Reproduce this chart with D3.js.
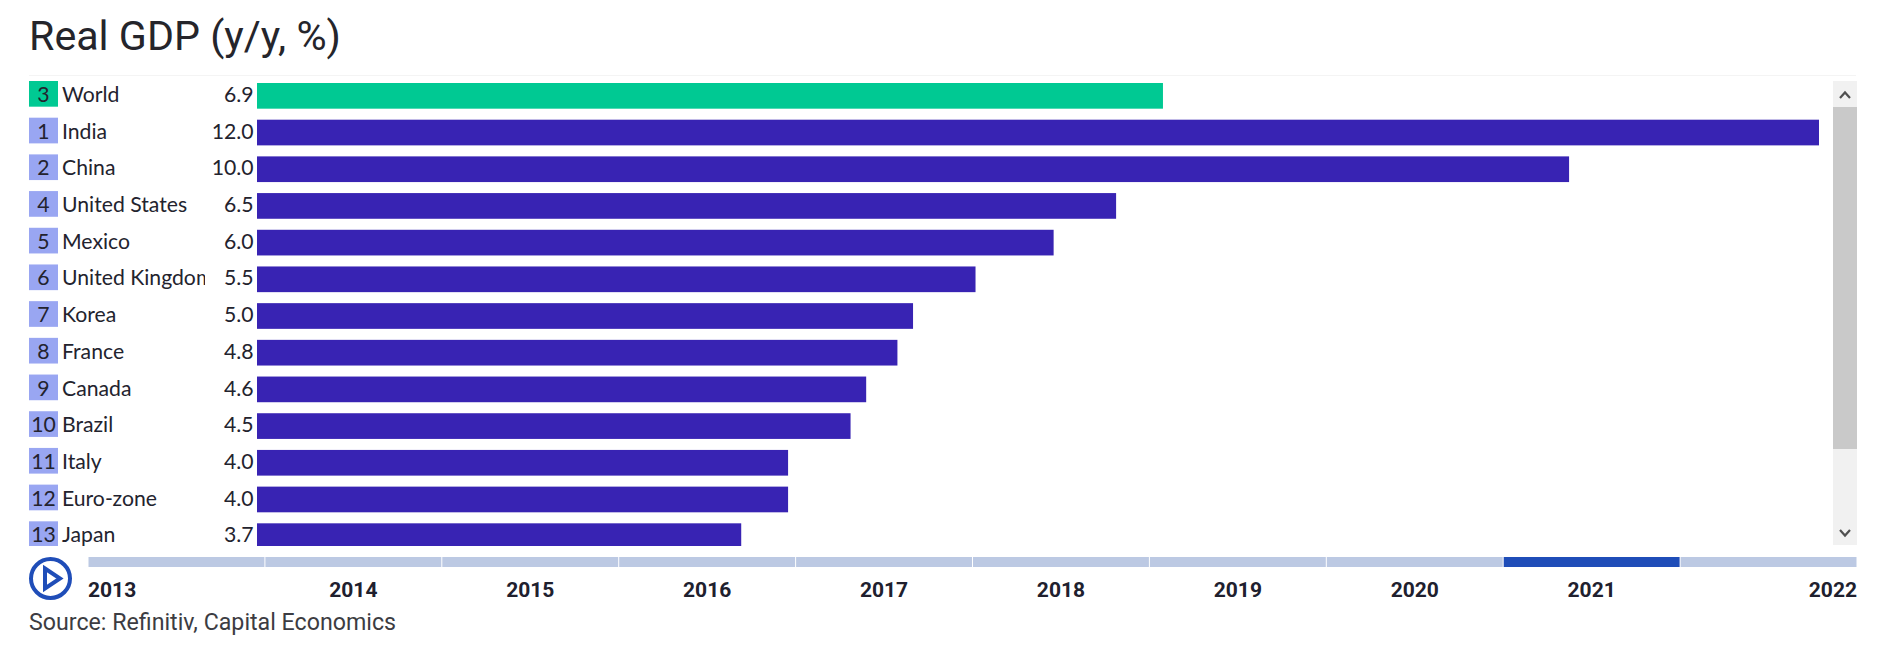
<!DOCTYPE html>
<meta charset="utf-8">
<style>
  html, body { margin: 0; padding: 0; background: #fff; }
  svg { display: block; }
</style>

<!-- Load d3.js -->
<script src="https://d3js.org/d3.v7.min.js"></script>

<div id="my_dataviz"></div>

<script>

// data
const ranks = [3, 1, 2, 4, 5, 6, 7, 8, 9, 10, 11, 12, 13];
const countries = ["World", "India", "China", "United States", "Mexico", "United Kingdom", "Korea",
  "France", "Canada", "Brazil", "Italy", "Euro-zone", "Japan"];
// printed labels are rounded, the bars carry a bit more precision
const labels = ["6.9", "12.0", "10.0", "6.5", "6.0", "5.5", "5.0", "4.8", "4.6", "4.5", "4.0", "4.0", "3.7"];
const barValues = [6.96, 12.0, 10.08, 6.6, 6.12, 5.52, 5.04, 4.92, 4.68, 4.56, 4.08, 4.08, 3.72];
const years = ["2013", "2014", "2015", "2016", "2017", "2018", "2019", "2020", "2021", "2022"];
const activeYear = "2021";

const width = 1881, height = 648;
const purple = "#3823b3", green = "#00c993", rankBlue = "#99a6f2", rankGreen = "#00c993";
const darkText = "#23232e";

const svg = d3.select("#my_dataviz").append("svg")
  .attr("width", width)
  .attr("height", height);

// title
svg.append("text")
  .attr("x", 29).attr("y", 50)
  .style("font-family", "Roboto").style("font-size", "41.2px")
  .style("fill", "#25252b")
  .text("Real GDP (y/y, %)");

// scales
const x = d3.scaleLinear().domain([0, 12]).range([257, 1819]);
const y = d3.scaleBand().domain(countries)
  .range([83, 549])
  .paddingInner(0.3).paddingOuter(0);

// clip for the scrolling list, last row gets cut at the bottom
const defs = svg.append("defs");
defs.append("clipPath").attr("id", "listClip")
  .append("rect").attr("x", 0).attr("y", 76).attr("width", 1830).attr("height", 470);
defs.append("clipPath").attr("id", "nameClip")
  .append("rect").attr("x", 60).attr("y", 76).attr("width", 145).attr("height", 470);

svg.append("line")
  .attr("x1", 29).attr("x2", 1856).attr("y1", 75.5).attr("y2", 75.5)
  .style("stroke", "#f4f4f4");

const list = svg.append("g").attr("clip-path", "url(#listClip)");

const rows = countries.map((c, i) => ({name: c, rank: ranks[i], label: labels[i], value: barValues[i]}));

list.selectAll("rect.bar").data(rows).enter().append("rect")
  .attr("class", "bar")
  .attr("x", x(0))
  .attr("y", d => y(d.name))
  .attr("width", d => x(d.value) - x(0))
  .attr("height", y.bandwidth())
  .style("fill", d => d.name === "World" ? green : purple);

list.selectAll("rect.rank").data(rows).enter().append("rect")
  .attr("class", "rank")
  .attr("x", 29)
  .attr("y", d => y(d.name) - 2)
  .attr("width", 29)
  .attr("height", y.bandwidth())
  .style("fill", d => d.name === "World" ? rankGreen : rankBlue);

const rowText = {"font-family": "Lato", "font-size": "21.2px", "fill": darkText};
function styled(sel) {
  Object.keys(rowText).forEach(k => sel.style(k, rowText[k]));
  return sel;
}

styled(list.selectAll("text.rank").data(rows).enter().append("text")
  .attr("class", "rank")
  .attr("x", 43.5)
  .attr("y", d => y(d.name) + 19)
  .attr("text-anchor", "middle")
  .text(d => d.rank));

styled(svg.append("g").attr("clip-path", "url(#nameClip)")
  .selectAll("text").data(rows).enter().append("text")
  .attr("x", 62)
  .attr("y", d => y(d.name) + 19)
  .text(d => d.name));

styled(list.selectAll("text.val").data(rows).enter().append("text")
  .attr("class", "val")
  .attr("x", 253.5)
  .attr("y", d => y(d.name) + 19)
  .attr("text-anchor", "end")
  .text(d => d.label));

// scrollbar
const sb = svg.append("g");
sb.append("rect").attr("x", 1833).attr("y", 81).attr("width", 24).attr("height", 464).style("fill", "#f1f1f1");
sb.append("rect").attr("x", 1833).attr("y", 107).attr("width", 24).attr("height", 342).style("fill", "#c9c9c9");
sb.append("path").attr("d", "M1840 98 L1845 92.5 L1850 98")
  .style("fill", "none").style("stroke", "#505050").style("stroke-width", 2.2);
sb.append("path").attr("d", "M1840 530 L1845 535.5 L1850 530")
  .style("fill", "none").style("stroke", "#505050").style("stroke-width", 2.2);

// timeline
const t = d3.scaleBand().domain(years).range([88, 1857]);

svg.selectAll("rect.seg").data(years).enter().append("rect")
  .attr("class", "seg")
  .attr("x", d => t(d) + 0.5)
  .attr("y", 557)
  .attr("width", t.bandwidth() - 1)
  .attr("height", 10)
  .style("fill", d => d === activeYear ? "#1f4db8" : "#bcc9e3");

const axis = svg.append("g")
  .attr("transform", "translate(0,567)")
  .call(d3.axisBottom(t).tickSize(0).tickPadding(15));
axis.select(".domain").remove();
axis.selectAll("text")
  .style("font-family", "Roboto").style("font-size", "21px").style("font-weight", 700)
  .style("fill", "#20202e")
  .attr("text-anchor", d => d === years[0] ? "start" : d === years[years.length - 1] ? "end" : "middle")
  .attr("dx", d => d === years[0] ? -t.bandwidth() / 2 : d === years[years.length - 1] ? t.bandwidth() / 2 : 0);

// play button
svg.append("circle").attr("cx", 50.5).attr("cy", 578.5).attr("r", 19.5)
  .style("fill", "none").style("stroke", "#1f4db8").style("stroke-width", 4);
svg.append("path").attr("d", "M45 568.5 L60 578.5 L45 588.5 Z")
  .style("fill", "none").style("stroke", "#1f4db8").style("stroke-width", 4);

// source
svg.append("text")
  .attr("x", 29).attr("y", 630)
  .style("font-family", "Roboto").style("font-size", "23.2px")
  .style("fill", "#3c3c42")
  .text("Source: Refinitiv, Capital Economics");

</script>
